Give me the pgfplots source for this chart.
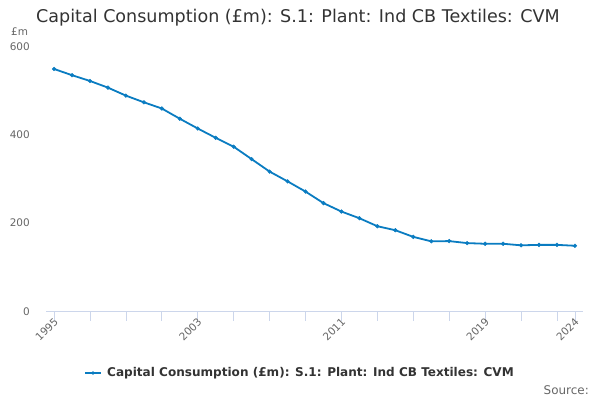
\documentclass[border=0pt]{standalone}
\usepackage{pgfplots}
\pgfplotsset{compat=1.18}
\usepackage{fontspec}
\setmainfont{DejaVu Sans}
\definecolor{ln}{HTML}{0A7CC1}
\definecolor{grd}{HTML}{E6E6E6}
\definecolor{axl}{HTML}{CCD6EB}
\definecolor{tl}{HTML}{666666}
\definecolor{tt}{HTML}{333333}
\begin{document}
\begin{tikzpicture}[x=1bp,y=1bp]
\path[use as bounding box] (0,0) rectangle (600,400);
\begin{axis}[
  at={(46bp,88.5bp)}, anchor=south west,
  scale only axis, width=537bp, height=266.5bp,
  xmin=1994.55, xmax=2024.45, ymin=0, ymax=600,
  axis line style={draw=none},
  axis x line*=bottom,
  axis y line=none,
  ytick={0,200,400,600},
  ymajorgrids, grid style={grd, line width=0.8pt},
  xtick={1995,2003,2011,2019,2024},
  xticklabels={1995,2003,2011,2019,2024},
  minor xtick={1997,1999,2001,2005,2007,2009,2013,2015,2017,2021,2023},
  xticklabel style={rotate=45, anchor=east, font=\fontsize{10.5}{12}\selectfont, text=tl, inner sep=1pt, xshift=3bp, yshift=-1bp},
  tick style={draw=axl, line width=0.8pt},
  major tick length=9bp, minor tick length=9bp,
  tick align=outside,
  clip=false,
]
\draw[axl, line width=0.8pt] (axis cs:1994.55,0) -- (axis cs:2024.45,0);
\addplot[ln, line width=1.8bp, mark=*, mark size=1.9pt, mark options={fill=ln, draw=ln, line width=0.4pt}] coordinates {
(1995,546) (1996,532) (1997,519) (1998,504) (1999,486) (2000,471)
(2001,457) (2002,434) (2003,412) (2004,391) (2005,371) (2006,343)
(2007,315) (2008,293) (2009,270) (2010,244) (2011,225) (2012,210)
(2013,192) (2014,183) (2015,168) (2016,158) (2017,158.5) (2018,154)
(2019,152.5) (2020,152.5) (2021,149) (2022,150) (2023,150) (2024,148)
};
\end{axis}
\node[anchor=east, text=tl, font=\fontsize{10.5}{12}\selectfont, inner sep=0pt] at (30,400-47) {600};
\node[anchor=east, text=tl, font=\fontsize{10.5}{12}\selectfont, inner sep=0pt] at (30,400-135) {400};
\node[anchor=east, text=tl, font=\fontsize{10.5}{12}\selectfont, inner sep=0pt] at (30,400-223) {200};
\node[anchor=east, text=tl, font=\fontsize{10.5}{12}\selectfont, inner sep=0pt] at (30,400-312) {0};
\node[anchor=west, text=tl, font=\fontsize{10.5}{12}\selectfont, inner sep=0pt] at (11,400-32) {£m};
\node[anchor=west, text=tt, font=\fontsize{17.6}{20}\selectfont, inner sep=0pt] at (36,400-18) {Capital Consumption (£m): S.1: Plant: Ind CB Textiles: CVM};
\draw[ln, line width=1.8bp] (85,400-373) -- (101,400-373);
\fill[ln] (93,400-373) circle (1.9pt);
\node[anchor=west, text=tt, font=\bfseries\fontsize{12.1}{14}\selectfont, inner sep=0pt] at (107,400-373) {Capital Consumption (£m): S.1: Plant: Ind CB Textiles: CVM};
\node[anchor=east, text=tl, font=\fontsize{12}{14}\selectfont, inner sep=0pt] at (589,400-390) {Source:};
\end{tikzpicture}
\end{document}
